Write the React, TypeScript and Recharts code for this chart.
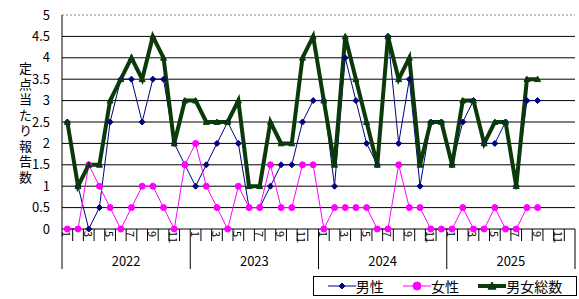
import { Line, LineChart, ReferenceLine, XAxis, YAxis } from "recharts";

const years = ["2022", "2023", "2024", "2025"];
const months = [1, 2, 3, 4, 5, 6, 7, 8, 9, 10, 11, 12];

// 男性
const male = [
  2.5, 1, 0, 0.5, 2.5, 3.5, 3.5, 2.5, 3.5, 3.5, 2, 1.5,
  1, 1.5, 2, 2.5, 2, 0.5, 0.5, 1, 1.5, 1.5, 2.5, 3,
  3, 1, 4, 3, 2, 1.5, 4.5, 2, 3.5, 1, 2.5, 2.5,
  1.5, 2.5, 3, 2, 2, 2.5, 1, 3, 3, null, null, null,
];
// 女性
const female = [
  0, 0, 1.5, 1, 0.5, 0, 0.5, 1, 1, 0.5, 0, 1.5,
  2, 1, 0.5, 0, 1, 0.5, 0.5, 1.5, 0.5, 0.5, 1.5, 1.5,
  0, 0.5, 0.5, 0.5, 0.5, 0, 0, 1.5, 0.5, 0.5, 0, 0,
  0, 0.5, 0, 0, 0.5, 0, 0, 0.5, 0.5, null, null, null,
];
// 男女総数
const total = [
  2.5, 1, 1.5, 1.5, 3, 3.5, 4, 3.5, 4.5, 4, 2, 3,
  3, 2.5, 2.5, 2.5, 3, 1, 1, 2.5, 2, 2, 4, 4.5,
  3, 1.5, 4.5, 3.5, 2.5, 1.5, 4.5, 3.5, 4, 1.5, 2.5, 2.5,
  1.5, 3, 3, 2, 2.5, 2.5, 1, 3.5, 3.5, null, null, null,
];

const yTicks = [0, 0.5, 1, 1.5, 2, 2.5, 3, 3.5, 4, 4.5, 5];
const gridLines = [0.5, 1, 1.5, 2, 2.5, 3, 3.5, 4, 4.5];
const yLabel = "定点当たり報告数";

const chartData = years.flatMap((yr, yi) =>
  months.map((m, mi) => ({
    key: `${yr}-${m}`,
    year: yr,
    month: m,
    male: male[yi * 12 + mi],
    female: female[yi * 12 + mi],
    total: total[yi * 12 + mi],
  }))
);

const W = 579;
const H = 299;
const LEFT = 62;
const RIGHT = 4;
const BW = (W - LEFT - RIGHT) / chartData.length;
const FONT = '"Noto Sans CJK JP", "DejaVu Sans", sans-serif';

const NAVY = "#000080";
const PINK = "#FF00FF";
const GREEN = "#0A3A0A";

function Diamond({ cx, cy, r = 3.5 }: any) {
  if (cx == null || cy == null) return null;
  return (
    <polygon
      points={`${cx},${cy - r} ${cx + r},${cy} ${cx},${cy + r} ${cx - r},${cy}`}
      fill={NAVY}
      stroke={NAVY}
    />
  );
}

function Triangle({ cx, cy, r = 4.5 }: any) {
  if (cx == null || cy == null) return null;
  return (
    <polygon
      points={`${cx},${cy - r} ${cx + r},${cy + r * 0.8} ${cx - r},${cy + r * 0.8}`}
      fill={GREEN}
      stroke={GREEN}
    />
  );
}

function Dot({ cx, cy, r = 4.5 }: any) {
  if (cx == null || cy == null) return null;
  return <circle cx={cx} cy={cy} r={r} fill={PINK} stroke={PINK} />;
}

function MonthTick({ x, y, payload }: any) {
  const d = chartData[payload.index];
  if (!d) return null;
  const left = x - BW / 2;
  const isLast = payload.index === chartData.length - 1;
  return (
    <g>
      <line x1={left} y1={y} x2={left} y2={y + (d.month === 1 ? 40 : 12)} stroke="#000" />
      {isLast && <line x1={x + BW / 2} y1={y} x2={x + BW / 2} y2={y + 40} stroke="#000" />}
      {d.month % 2 === 1 && (
        <text
          transform={`translate(${x}, ${y + 2}) rotate(90)`}
          textAnchor="start"
          dominantBaseline="central"
          fontSize={11}
          fontFamily={FONT}
          fill="#000"
        >
          {d.month}
        </text>
      )}
      {d.month === 6 && (
        <text
          x={x + BW / 2}
          y={y + 37}
          textAnchor="middle"
          fontSize={13}
          fontFamily={FONT}
          fill="#000"
        >
          {d.year}
        </text>
      )}
    </g>
  );
}

function LegendBox() {
  const items = [
    { label: "男性", color: NAVY, width: 1, marker: <Diamond cx={14} cy={8} r={3} /> },
    { label: "女性", color: PINK, width: 1, marker: <Dot cx={14} cy={8} r={4} /> },
    { label: "男女総数", color: GREEN, width: 4, marker: <Triangle cx={14} cy={8} r={4} /> },
  ];
  return (
    <div
      style={{
        position: "absolute",
        left: 313,
        top: 276,
        width: 264,
        height: 20,
        border: "1px solid #000",
        background: "#fff",
        display: "flex",
        alignItems: "center",
        justifyContent: "space-around",
        fontFamily: FONT,
        fontSize: 14,
        color: "#000",
        boxSizing: "border-box",
        padding: "0 4px",
      }}
    >
      {items.map((it) => (
        <span key={it.label} style={{ display: "flex", alignItems: "center" }}>
          <svg width={28} height={16}>
            <line x1={0} y1={8} x2={28} y2={8} stroke={it.color} strokeWidth={it.width} />
            {it.marker}
          </svg>
          <span style={{ lineHeight: "16px" }}>{it.label}</span>
        </span>
      ))}
    </div>
  );
}

export default function App() {
  return (
    <div style={{ position: "absolute", left: 0, top: 0, width: W, height: H, background: "#fff" }}>
      <div
        style={{
          position: "absolute",
          left: 16,
          top: 62,
          fontFamily: FONT,
          fontSize: 13,
          lineHeight: "18px",
          letterSpacing: "2.5px",
          writingMode: "vertical-rl",
          textOrientation: "upright",
          color: "#000",
        }}
      >
        {yLabel}
      </div>
      <LineChart
        width={W}
        height={H}
        data={chartData}
        margin={{ top: 15, right: RIGHT, bottom: 0, left: 0 }}
      >
        <XAxis
          dataKey="key"
          scale="band"
          interval={0}
          axisLine={{ stroke: "#000" }}
          tickLine={false}
          tickSize={0}
          tickMargin={0}
          height={70}
          tick={<MonthTick />}
        />
        <YAxis
          domain={[0, 5]}
          ticks={yTicks}
          interval={0}
          width={LEFT}
          axisLine={{ stroke: "#000" }}
          tickLine={false}
          tickMargin={6}
          tick={{ fill: "#000", fontSize: 13, fontFamily: FONT }}
        />
        <YAxis
          yAxisId="r"
          orientation="right"
          width={0}
          domain={[0, 5]}
          tick={false}
          tickLine={false}
          axisLine={{ stroke: "#888", strokeDasharray: "2 2" }}
        />
        {gridLines.map((v) => (
          <ReferenceLine key={v} y={v} stroke="#000" strokeWidth={1} />
        ))}
        <ReferenceLine y={5} stroke="#888" strokeDasharray="2 2" />
        <Line
          dataKey="male"
          name="男性"
          stroke={NAVY}
          strokeWidth={1}
          dot={<Diamond />}
          activeDot={false}
          isAnimationActive={false}
        />
        <Line
          dataKey="female"
          name="女性"
          stroke={PINK}
          strokeWidth={1}
          dot={<Dot />}
          activeDot={false}
          isAnimationActive={false}
        />
        <Line
          dataKey="total"
          name="男女総数"
          stroke={GREEN}
          strokeWidth={4}
          dot={<Triangle />}
          activeDot={false}
          isAnimationActive={false}
        />
      </LineChart>
      <LegendBox />
    </div>
  );
}
